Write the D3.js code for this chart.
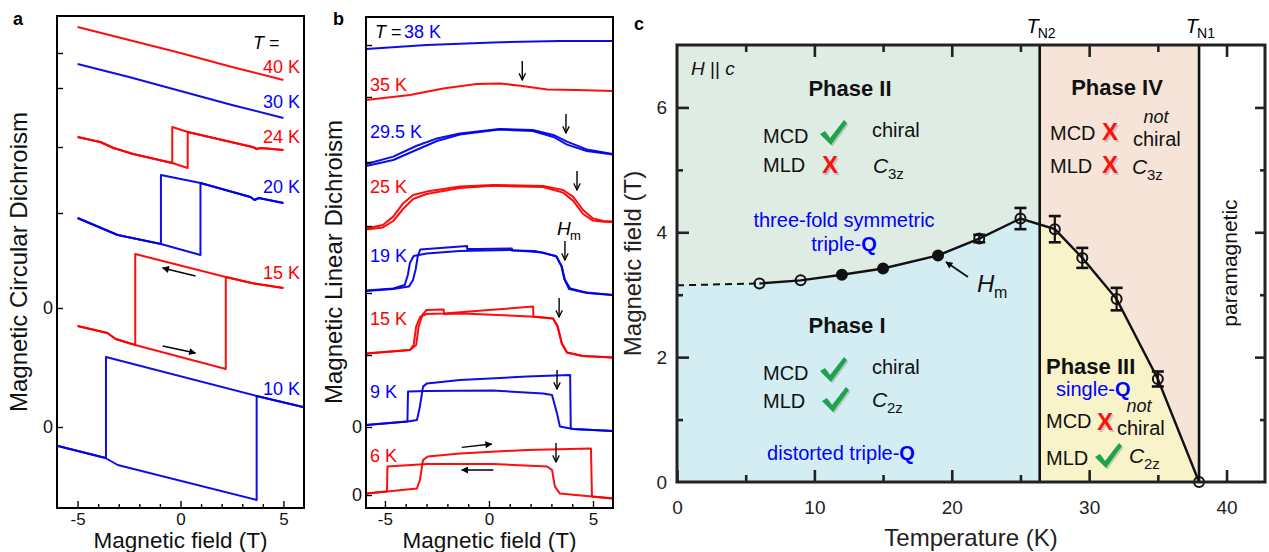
<!DOCTYPE html>
<html><head><meta charset="utf-8">
<script src="https://cdn.jsdelivr.net/npm/d3@7"></script>
<style>body{margin:0;background:#fff} svg{display:block}</style>
</head><body><svg id="fig" width="1269" height="552"></svg>
<script>
// ---------------- DATA ----------------
// Panel a: MCD vs field (T), arbitrary units with vertical offsets
const mcdLabels = ["40 K","30 K","24 K","20 K","15 K","10 K"];
const mcd40 = [[-5,20.0],[-2.5,19.35],[0,18.7],[2.5,18.0],[5,17.35]];
const mcd30 = [[-5,18.15],[-2.5,17.5],[0,16.8],[2.5,16.1],[5,15.45]];
const mcd24Up = [[-5,14.5],[-3.9,14.25],[-3.25,13.95],[-2.3,13.65],[-0.4,13.2],[0.35,12.95],[0.35,14.75],[3.5,14.0],[3.7,13.9],[3.9,13.95],[5,13.85]];
const mcd24Down = [[5,13.85],[3.9,13.95],[3.7,13.9],[3.5,14.0],[0.35,14.75],[-0.4,15.0],[-0.4,13.2],[-2.3,13.65],[-3.25,13.95],[-3.9,14.25],[-5,14.5]];
const mcd20Up = [[-5,10.45],[-3.4,9.75],[-3.05,9.6],[-0.95,9.15],[0.97,8.6],[0.97,12.2],[3.4,11.5],[3.6,11.35],[3.8,11.45],[5,11.2]];
const mcd20Down = [[5,11.2],[3.8,11.45],[3.6,11.35],[3.4,11.5],[0.97,12.2],[-0.95,12.6],[-0.95,9.15],[-3.05,9.6],[-3.4,9.75],[-5,10.45]];
const mcd15Up = [[-5,5.05],[-3.55,4.7],[-3.15,4.4],[-2.2,4.1],[2.2,2.9],[2.2,7.5],[3.25,7.25],[3.45,7.2],[5,6.95]];
const mcd15Down = [[5,6.95],[3.45,7.2],[3.25,7.25],[2.2,7.5],[-2.2,8.65],[-2.2,4.1],[-3.15,4.4],[-3.55,4.7],[-5,5.05]];
const mcd10Up = [[-5.95,-0.95],[-3.65,-1.55],[-3.05,-1.9],[3.7,-3.65],[3.7,1.55],[5.95,1.0]];
const mcd10Down = [[5.95,1.0],[3.7,1.55],[-3.62,3.5],[-3.62,-1.55],[-5.95,-0.95]];
const mcdCurves = [[mcd40],[mcd30],[mcd24Up,mcd24Down],[mcd20Up,mcd20Down],[mcd15Up,mcd15Down],[mcd10Up,mcd10Down]];
const mcdTicks = [18.7,16.95,14.0,10.7,5.95,0];
const mcdTickLabels = ["","","","","0","0"];
const mcdSweepArrows = [[0.73,7.55,-0.87,7.95],[-0.87,4.05,0.73,3.7]]; // [H1,v1,H2,v2]

// Panel b: MLD vs field (T)
const mldLabels = ["38 K","35 K","29.5 K","25 K","19 K","15 K","9 K","6 K"];
const mld38 = [[-5.9,22.3],[-3,22.5],[0.2,22.63],[3.4,22.7],[5.95,22.7]];
const mld35 = [[-5.9,19.75],[-3.8,20.0],[-2.2,20.33],[-0.6,20.55],[0.5,20.58],[1.6,20.45],[2.8,20.28],[4.2,20.25],[5.95,20.2]];
const mld29A = [[-5.9,16.55],[-4.6,16.92],[-3.5,17.45],[-2.5,17.83],[-1.4,18.08],[0.5,18.3],[2.1,18.25],[3.1,18.0],[3.75,17.67],[4.7,17.28],[5.95,17.05]];
const mld29B = [[-5.9,16.45],[-4.6,16.75],[-3.5,17.25],[-2.5,17.7],[-1.4,18.02],[0.5,18.27],[2.1,18.2],[3.1,17.9],[3.75,17.52],[4.7,17.2],[5.95,17.03]];
const mld25A = [[-5.9,13.33],[-5.1,13.5],[-4.6,13.92],[-4.13,14.58],[-3.65,15.0],[-3.0,15.17],[-1.4,15.42],[0.2,15.5],[2.6,15.45],[3.56,15.25],[4.04,14.92],[4.52,14.25],[5.0,13.83],[5.5,13.7],[5.95,13.67]];
const mld25B = [[-5.9,13.27],[-5.1,13.38],[-4.6,13.7],[-4.13,14.3],[-3.65,14.8],[-3.0,15.05],[-1.4,15.35],[0.2,15.46],[2.6,15.4],[3.56,15.12],[4.04,14.72],[4.52,14.05],[5.0,13.72],[5.5,13.66],[5.95,13.65]];
const mld19A = [[-5.9,10.22],[-4.6,10.33],[-4.05,10.5],[-3.9,11.0],[-3.8,11.6],[-3.62,11.95],[-3.0,12.08],[-1.4,12.2],[1.0,12.25],[2.6,12.12],[3.25,11.92],[3.5,11.42],[3.65,10.75],[3.9,10.33],[4.7,10.12],[5.95,10.0]];
const mld19B = [[5.95,10.0],[4.7,10.1],[3.85,10.3],[3.62,10.8],[3.48,11.45],[3.22,11.95],[2.2,12.2],[1.1,12.22],[1.1,12.33],[-0.5,12.3],[-1.05,12.3],[-1.05,12.45],[-3.3,12.28],[-3.42,11.95],[-3.52,11.3],[-3.65,10.75],[-3.85,10.42],[-4.6,10.3],[-5.9,10.2]];
const mld15A = [[-5.9,7.08],[-3.8,7.25],[-3.62,7.5],[-3.5,8.42],[-3.3,8.92],[-3.0,9.05],[-2.16,9.07],[0,9.25],[2.12,9.42],[2.14,8.92],[3.08,8.83],[3.3,8.42],[3.5,7.58],[3.75,7.12],[4.5,6.95],[5.95,6.88]];
const mld15B = [[5.95,6.88],[4.5,6.95],[3.75,7.12],[3.5,7.58],[3.3,8.42],[3.08,8.83],[1.97,8.92],[0.4,9.0],[-1.25,9.08],[-2.16,9.05],[-2.18,9.28],[-3.0,9.25],[-3.2,9.0],[-3.38,8.42],[-3.5,7.5],[-3.8,7.25],[-5.9,7.08]];
const mld9Up = [[-5.9,3.5],[-3.9,3.67],[-3.46,3.75],[-3.32,4.42],[-3.17,5.42],[-2.98,5.58],[-1.39,5.75],[1.83,5.92],[3.9,6.0],[3.93,3.33],[4.04,3.3],[5.95,3.2]];
const mld9Down = [[5.95,3.2],[4.04,3.3],[3.41,3.42],[3.27,4.08],[3.03,5.0],[2.6,5.08],[0.19,5.22],[-2.98,5.2],[-3.89,5.17],[-3.92,3.67],[-5.9,3.5]];
const mld6Up = [[-5.9,0.08],[-4.9,0.17],[-3.46,0.33],[-3.32,0.75],[-3.17,1.75],[-2.95,1.92],[-1.39,2.08],[1.83,2.25],[4.9,2.33],[4.95,-0.08],[5.95,-0.17]];
const mld6Down = [[5.95,-0.17],[4.95,-0.08],[3.4,0.08],[3.17,0.42],[3.03,1.25],[2.8,1.42],[0.19,1.55],[-2.98,1.55],[-4.88,1.42],[-4.9,0.17],[-5.9,0.08]];
const mldCurves = [[mld38],[mld35],[mld29A,mld29B],[mld25A,mld25B],[mld19A,mld19B],[mld15A,mld15B],[mld9Up,mld9Down],[mld6Up,mld6Down]];
const mldTicks = [22.5,19.9,16.65,13.45,10.1,7.0,3.4,0];
const mldTickLabels = ["","","","","","","0","0"];
const hmArrowH = [1.6,3.7,4.23,3.65,3.37,3.27,3.22];
const hmArrowV = [20.75,18.1,15.25,11.75,8.9,5.3,1.65];
const mldSweepArrows = [[-1.31,2.38,0.13,2.55],[0.21,1.25,-1.31,1.25]];

// Panel c: phase diagram
const dashT = [0,6];
const dashH = [3.15,3.18];
const ptT = [6,9,12,15,19,22,25,27.5,29.5,32,35,38];
const ptH = [3.18,3.23,3.32,3.42,3.63,3.9,4.22,4.05,3.59,2.93,1.65,0];
const ptErr = [0,0,0,0,0,0.06,0.17,0.21,0.16,0.18,0.12,0];
const ptFilled = [0,0,1,1,1,0,0,0,0,0,0,0];
const TN2 = 26.4, TN1 = 38;
const tempTicks = [0,5,10,15,20,25,30,35,40];
const fieldTicks = [0,1,2,3,4,5,6,7];

// ---------------- DRAWING ----------------
const FONT = '"Liberation Sans", Arial, Helvetica, sans-serif';
const RED = "#ff0000", BLUE = "#0000e8", TBLUE = "#0000ff";
const svg = d3.select("#fig").style("font-family", FONT);

function T(g, x, y, s, o = {}) {
  const t = g.append("text").attr("x", x).attr("y", y).text(s);
  for (const k in o) t.attr(k, o[k]);
  return t;
}

const defs = svg.append("defs");
defs.append("marker").attr("id","tri").attr("viewBox","0 0 10 10").attr("refX",9).attr("refY",5)
  .attr("markerUnits","userSpaceOnUse").attr("markerWidth",8).attr("markerHeight",7).attr("orient","auto")
  .append("path").attr("d","M0,0 L10,5 L0,10 Z").attr("fill","#000");
defs.append("marker").attr("id","vee").attr("viewBox","0 0 10 10").attr("refX",9.3).attr("refY",5)
  .attr("markerUnits","userSpaceOnUse").attr("markerWidth",8).attr("markerHeight",8).attr("orient","auto")
  .append("path").attr("d","M1,1 L9.3,5 L1,9").attr("fill","none").attr("stroke","#000").attr("stroke-width",1.6);

function fieldPanel(xr, yr, xdom, ydom, ticksV, tickLabs, curves, labels, labelX, labelY, labelAnchor, ylabel, ylabelOff, letter, letterX, redFirst) {
  const g = svg.append("g");
  const x = d3.scaleLinear().domain(xdom).range(xr);
  const y = d3.scaleLinear().domain(ydom).range(yr);
  const line = d3.line().x(d => x(d[0])).y(d => y(d[1]));
  const isRed = i => (i % 2 === 0) === redFirst;
  curves.forEach((set, i) => {
    set.forEach(c => {
      g.append("path").attr("d", line(c)).attr("fill","none")
        .attr("stroke", isRed(i) ? RED : BLUE).attr("stroke-width",2)
        .attr("stroke-linejoin","round").attr("opacity",0.95);
    });
  });
  // bottom axis
  const ax = d3.axisBottom(x).tickValues(d3.range(-5,6)).tickSizeInner(-4).tickSizeOuter(0).tickPadding(4.5)
    .tickFormat(d => d % 5 === 0 ? String(d) : "");
  const ga = g.append("g").attr("transform",`translate(0,${yr[0]})`).call(ax)
    .attr("font-family",FONT).attr("font-size",17);
  ga.select(".domain").remove();
  ga.selectAll(".tick line").attr("y2", d => d % 5 === 0 ? -7 : -4).attr("stroke-width",1.4);
  ga.selectAll(".tick text").attr("fill","#111");
  // left axis
  const ay = d3.axisLeft(y).tickValues(ticksV).tickSizeInner(-6).tickSizeOuter(0).tickPadding(4)
    .tickFormat((d,i) => tickLabs[i]);
  const gy = g.append("g").attr("transform",`translate(${xr[0]},0)`).call(ay)
    .attr("font-family",FONT).attr("font-size",18);
  gy.select(".domain").remove();
  gy.selectAll(".tick line").attr("stroke-width",1.4);
  gy.selectAll(".tick text").attr("fill","#111");
  // frame
  g.append("rect").attr("x",xr[0]).attr("y",yr[1]).attr("width",xr[1]-xr[0]).attr("height",yr[0]-yr[1])
    .attr("fill","none").attr("stroke","#000").attr("stroke-width",2);
  // labels
  labels.forEach((s,i) => T(g, labelX, labelY[i], s, {"font-size":18, fill: isRed(i) ? RED : TBLUE, "text-anchor": labelAnchor}));
  // axis titles
  T(g, (xr[0]+xr[1])/2, 547.5, "Magnetic field (T)", {"font-size":22.5, "text-anchor":"middle", fill:"#111"});
  T(g, 0, 0, ylabel, {"font-size":24, "text-anchor":"middle", fill:"#111",
    transform:`translate(${xr[0]-ylabelOff},${262}) rotate(-90)`});
  T(g, letterX, 25, letter, {"font-size":18, "font-weight":"bold"});
  return {g, x, y};
}

// Panel a
const A = fieldPanel([57,304],[508,16],[-6,6],[-4.05,20.55], mcdTicks, mcdTickLabels, mcdCurves, mcdLabels,
  300, [73,108,143,193,279,395], "end", "Magnetic Circular Dichroism", 30, "a", 13, true);
const tA = T(A.g, 253, 49, "", {"font-size":18});
tA.append("tspan").attr("font-style","italic").text("T");
tA.append("tspan").text(" =");
mcdSweepArrows.forEach(a => {
  A.g.append("line").attr("x1",A.x(a[0])).attr("y1",A.y(a[1])).attr("x2",A.x(a[2])).attr("y2",A.y(a[3]))
    .attr("stroke","#000").attr("stroke-width",1.4).attr("marker-end","url(#tri)");
});

// Panel b
const B = fieldPanel([366,613],[508,17],[-5.91,5.96],[-0.65,23.9], mldTicks, mldTickLabels, mldCurves, mldLabels,
  370, [38,91,138,193,262,325,398,462], "start", "Magnetic Linear Dichroism", 24, "b", 333, false);
B.g.selectAll("text").filter(function(){ return d3.select(this).text() === "38 K"; }).attr("x",404);
const tB = T(B.g, 375, 38, "", {"font-size":18});
tB.append("tspan").attr("font-style","italic").text("T");
tB.append("tspan").text(" =");
hmArrowH.forEach((h,i) => {
  B.g.append("line").attr("x1",B.x(h)).attr("y1",B.y(hmArrowV[i])-19).attr("x2",B.x(h)).attr("y2",B.y(hmArrowV[i]))
    .attr("stroke","#000").attr("stroke-width",1.4).attr("marker-end","url(#vee)");
});
mldSweepArrows.forEach(a => {
  B.g.append("line").attr("x1",B.x(a[0])).attr("y1",B.y(a[1])).attr("x2",B.x(a[2])).attr("y2",B.y(a[3]))
    .attr("stroke","#000").attr("stroke-width",1.4).attr("marker-end","url(#tri)");
});
T(B.g, 557, 235, "H", {"font-size":19, "font-style":"italic"});
T(B.g, 570, 240, "m", {"font-size":13});

// Panel c
const gc = svg.append("g");
const xc = d3.scaleLinear().domain([0,42.8]).range([677,1265]);
const yc = d3.scaleLinear().domain([0,7]).range([482,45]);
const interpTN2 = ptH[6] + (ptH[7]-ptH[6]) * (TN2-ptT[6])/(ptT[7]-ptT[6]);
// backgrounds
gc.append("rect").attr("x",xc(0)).attr("y",yc(7)).attr("width",xc(TN2)-xc(0)).attr("height",yc(0)-yc(7)).attr("fill","#dfece3");
gc.append("rect").attr("x",xc(TN2)).attr("y",yc(7)).attr("width",xc(TN1)-xc(TN2)).attr("height",yc(0)-yc(7)).attr("fill","#f6e4d8");
const area = d3.line().x(d => xc(d[0])).y(d => yc(d[1]));
const p1 = [[0,0],[dashT[0],dashH[0]]];
ptT.forEach((t,i) => { if (t < TN2) p1.push([t, ptH[i]]); });
p1.push([TN2, interpTN2],[TN2,0]);
gc.append("path").attr("d", area(p1) + "Z").attr("fill","#d3edf3");
const p3 = [[TN2,0],[TN2,interpTN2]];
ptT.forEach((t,i) => { if (t > TN2) p3.push([t, ptH[i]]); });
gc.append("path").attr("d", area(p3) + "Z").attr("fill","#f8f3c8");
// phase boundary verticals
[TN2, TN1].forEach(t => gc.append("line").attr("x1",xc(t)).attr("x2",xc(t)).attr("y1",yc(0)).attr("y2",yc(7))
  .attr("stroke","#111").attr("stroke-width",2.6));
// Hm line
gc.append("path").attr("d", area(dashT.map((t,i)=>[t,dashH[i]]))).attr("fill","none").attr("stroke","#111")
  .attr("stroke-width",2).attr("stroke-dasharray","7,5");
gc.append("path").attr("d", area(ptT.map((t,i)=>[t,ptH[i]]))).attr("fill","none").attr("stroke","#111").attr("stroke-width",2.4);
// error bars
ptT.forEach((t,i) => {
  if (ptErr[i] > 0) {
    const x = xc(t), y1 = yc(ptH[i]-ptErr[i]), y2 = yc(ptH[i]+ptErr[i]);
    gc.append("line").attr("x1",x).attr("x2",x).attr("y1",y1).attr("y2",y2).attr("stroke","#111").attr("stroke-width",2.2);
    [y1,y2].forEach(yy => gc.append("line").attr("x1",x-6).attr("x2",x+6).attr("y1",yy).attr("y2",yy).attr("stroke","#111").attr("stroke-width",2.6));
  }
});
gc.selectAll("circle.pt").data(ptT).enter().append("circle").attr("class","pt")
  .attr("cx", d => xc(d)).attr("cy", (d,i) => yc(ptH[i])).attr("r",5)
  .attr("fill", (d,i) => ptFilled[i] ? "#111" : "none").attr("stroke","#111").attr("stroke-width",2);
// axes
function cAxis(axisFn, scale, vals, transform, major, labelled, sizeMajor, sizeMinor, pad) {
  const ax = axisFn(scale).tickValues(vals).tickSizeInner(-sizeMajor).tickSizeOuter(0).tickPadding(pad)
    .tickFormat(d => labelled && major(d) ? String(d) : "");
  const ga = gc.append("g").attr("transform",transform).call(ax).attr("font-family",FONT).attr("font-size",19);
  ga.select(".domain").remove();
  ga.selectAll(".tick line").attr("stroke","#222").attr("stroke-width",2.6)
    .each(function(d){ const l = d3.select(this); const s = major(d) ? sizeMajor : sizeMinor;
      ["x2","y2"].forEach(a => { const v = +l.attr(a); if (v) l.attr(a, v > 0 ? s : -s); }); });
  ga.selectAll(".tick text").attr("fill","#222");
  return ga;
}
cAxis(d3.axisBottom, xc, tempTicks, `translate(0,${yc(0)})`, d => d % 10 === 0, true, 12, 7, 19);
cAxis(d3.axisTop, xc, tempTicks.slice(1), `translate(0,${yc(7)})`, d => d % 10 === 0, false, 12, 7, 5);
cAxis(d3.axisLeft, yc, fieldTicks.slice(1,7), `translate(${xc(0)},0)`, d => d % 2 === 0, true, 12, 6, 10);
cAxis(d3.axisRight, yc, fieldTicks.slice(1,7), `translate(${xc(42.8)},0)`, d => d % 2 === 0, false, 10, 5, 5);
T(gc, xc(0)-10, yc(0)+7, "0", {"font-size":19, "text-anchor":"end", fill:"#222"});
gc.append("rect").attr("x",xc(0)).attr("y",yc(7)).attr("width",xc(42.8)-xc(0)).attr("height",yc(0)-yc(7))
  .attr("fill","none").attr("stroke","#222").attr("stroke-width",3);
// titles
T(gc, (xc(0)+xc(42.8))/2, 546, "Temperature (K)", {"font-size":24, "text-anchor":"middle", fill:"#222"});
T(gc, 0, 0, "Magnetic field (T)", {"font-size":24, "text-anchor":"middle", fill:"#222", transform:`translate(641,${(yc(0)+yc(7))/2}) rotate(-90)`});
T(gc, 634, 30, "c", {"font-size":18, "font-weight":"bold"});
function TN(x, sub) {
  T(gc, x-1, 33, "T", {"font-size":20, "font-style":"italic", "text-anchor":"end"});
  T(gc, x-2, 38, sub, {"font-size":14});
}
TN(xc(TN2), "N2"); TN(xc(TN1), "N1");
// Hm arrow & label
gc.append("line").attr("x1",968).attr("y1",277).attr("x2",946).attr("y2",262)
  .attr("stroke","#111").attr("stroke-width",1.8).attr("marker-end","url(#tri)");
T(gc, 977, 292, "H", {"font-size":24, "font-style":"italic", fill:"#111"});
T(gc, 994, 298, "m", {"font-size":16, fill:"#111"});
// annotations
function check(x, y) {
  const d = "M0,14 L5,11 L10,18 L24,0 L27,3 L11,25 Z";
  gc.append("path").attr("d",d).attr("transform",`translate(${x+1.5},${y+1.5})`).attr("fill","#8a9a90").attr("opacity",0.45);
  gc.append("path").attr("d",d).attr("transform",`translate(${x},${y})`).attr("fill","#1ea34c");
}
function cross(x, y) {
  T(gc, x+1.5, y+1.5, "X", {"font-size":24, "font-weight":"bold", fill:"#999", opacity:0.5});
  T(gc, x, y, "X", {"font-size":24, "font-weight":"bold", fill:"#ff1010"});
}
function sub2(x, y, main, sub) {
  T(gc, x, y, main, {"font-size":21, "font-style":"italic", fill:"#111"});
  T(gc, x+15, y+6, sub, {"font-size":15, fill:"#111"});
}
function notChiral(xNot, yNot, xCh, yCh) {
  T(gc, xNot, yNot, "not", {"font-size":18, "font-style":"italic", "text-anchor":"middle", fill:"#111"});
  T(gc, xCh, yCh, "chiral", {"font-size":20, fill:"#111"});
}
const tH = T(gc, 691, 75, "", {"font-size":19, fill:"#111"});
tH.append("tspan").attr("font-style","italic").text("H");
tH.append("tspan").text(" || ");
tH.append("tspan").attr("font-style","italic").text("c");
// Phase II
T(gc, 850, 96, "Phase II", {"font-size":22, "font-weight":"bold", "text-anchor":"middle", fill:"#111"});
T(gc, 763, 143, "MCD", {"font-size":20, fill:"#111"}); check(820, 120);
T(gc, 872, 137, "chiral", {"font-size":20, fill:"#111"});
T(gc, 763, 172, "MLD", {"font-size":20, fill:"#111"}); cross(822, 173);
sub2(873, 173, "C", "3z");
T(gc, 844, 227, "three-fold symmetric", {"font-size":20, "text-anchor":"middle", fill:TBLUE});
const tq1 = T(gc, 844, 251, "", {"font-size":20, "text-anchor":"middle", fill:TBLUE});
tq1.append("tspan").text("triple-"); tq1.append("tspan").attr("font-weight","bold").text("Q");
// Phase I
T(gc, 847, 333, "Phase I", {"font-size":22, "font-weight":"bold", "text-anchor":"middle", fill:"#111"});
T(gc, 763, 380, "MCD", {"font-size":20, fill:"#111"}); check(820, 357);
T(gc, 872, 374, "chiral", {"font-size":20, fill:"#111"});
T(gc, 763, 408, "MLD", {"font-size":20, fill:"#111"}); check(822, 387);
sub2(872, 407, "C", "2z");
const tq2 = T(gc, 841, 460, "", {"font-size":20, "text-anchor":"middle", fill:TBLUE});
tq2.append("tspan").text("distorted triple-"); tq2.append("tspan").attr("font-weight","bold").text("Q");
// Phase IV
T(gc, 1117, 95, "Phase IV", {"font-size":22, "font-weight":"bold", "text-anchor":"middle", fill:"#111"});
T(gc, 1050, 140, "MCD", {"font-size":20, fill:"#111"}); cross(1102, 140);
notChiral(1156, 123, 1133, 145.5);
T(gc, 1050, 173, "MLD", {"font-size":20, fill:"#111"}); cross(1102, 173);
sub2(1132, 174, "C", "3z");
// Phase III
T(gc, 1046, 374, "Phase III", {"font-size":22, "font-weight":"bold", fill:"#111"});
const tq3 = T(gc, 1056, 396, "", {"font-size":20, fill:TBLUE});
tq3.append("tspan").text("single-"); tq3.append("tspan").attr("font-weight","bold").text("Q");
T(gc, 1046, 428, "MCD", {"font-size":20, fill:"#111"}); cross(1097, 430);
notChiral(1139, 412, 1117, 434.5);
T(gc, 1046, 465, "MLD", {"font-size":20, fill:"#111"}); check(1095, 443);
sub2(1129, 463, "C", "2z");
// paramagnetic
T(gc, 0, 0, "paramagnetic", {"font-size":21, "text-anchor":"middle", fill:"#111", transform:"translate(1237,263) rotate(-90)"});
</script></body></html>
